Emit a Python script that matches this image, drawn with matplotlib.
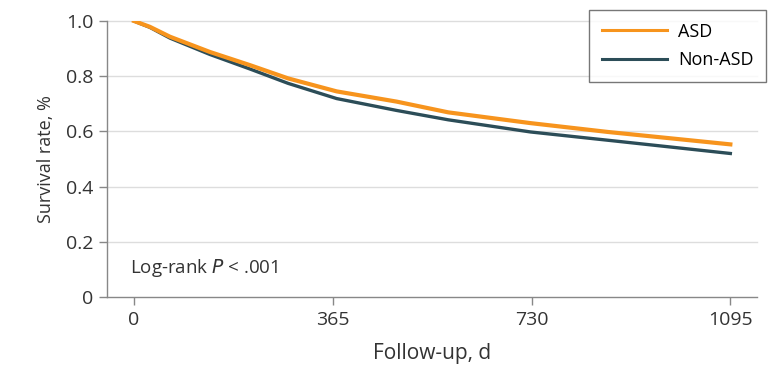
import matplotlib
matplotlib.use("Agg")
from matplotlib import pyplot as plt
from matplotlib import font_manager

# follow-up days and survival
days = [0, 11, 29, 66, 139, 213, 283, 372, 482, 577, 728, 870, 1095]
asd = [1.0, 0.992, 0.979, 0.943, 0.888, 0.840, 0.792, 0.745, 0.708, 0.669, 0.630, 0.598, 0.553]
non_asd = [1.0, 0.991, 0.977, 0.938, 0.879, 0.826, 0.774, 0.719, 0.676, 0.642, 0.598, 0.568, 0.520]

x_ticks = [0, 365, 730, 1095]
y_ticks = [0, 0.2, 0.4, 0.6, 0.8, 1.0]
y_tick_labels = ["0", "0.2", "0.4", "0.6", "0.8", "1.0"]

names = {f.name for f in font_manager.fontManager.ttflist}
family = "Liberation Sans Narrow" if "Liberation Sans Narrow" in names else "Open Sans"
plt.rcParams["font.family"] = [family, "DejaVu Sans"]

fig = plt.figure(figsize=(7.84, 3.67), dpi=100)
ax = fig.add_axes([0.1365, 0.1907, 0.8291, 0.7521])

ax.plot(days, asd, color="#F7941D", lw=3.0, label="ASD", zorder=3,
        solid_joinstyle="round")
ax.plot(days, non_asd, color="#2C4D58", lw=2.4, label="Non-ASD", zorder=2,
        solid_joinstyle="round")

ax.set_xlim(-49.6, 1144)
ax.set_ylim(0, 1.0)
ax.set_xticks(x_ticks)
ax.set_xticklabels([str(t) for t in x_ticks])
ax.set_yticks(y_ticks)
ax.set_yticklabels(y_tick_labels)
ax.tick_params(axis="both", labelsize=14, colors="#333333", length=6, width=1, pad=4)
ax.tick_params(axis="both", color="#888888")

for y in y_ticks[1:]:
    ax.axhline(y, color="#DDDDDD", lw=1, zorder=0, clip_on=False)

for side in ["top", "right"]:
    ax.spines[side].set_visible(False)
for side in ["left", "bottom"]:
    ax.spines[side].set_color("#888888")
    ax.spines[side].set_linewidth(1)

ax.set_xlabel("Follow-up, d", fontsize=15, color="#333333", labelpad=10)
ax.set_ylabel("Survival rate, %", fontsize=13, color="#333333", labelpad=8)

ax.text(0.035, 0.105, "Log-rank $P$ < .001", transform=ax.transAxes, fontsize=13.5,
        color="#333333", va="center", ha="left")

leg = fig.legend(loc="upper right", bbox_to_anchor=(0.977, 0.973), fontsize=13,
                 frameon=True, fancybox=False, edgecolor="#555555", handlelength=3.6,
                 borderpad=0.7, labelspacing=0.6, handletextpad=0.6,
                 borderaxespad=0)
leg.get_frame().set_linewidth(1)
for line in leg.get_lines():
    line.set_linewidth(2.2)

fig.savefig("out.png", dpi=100)
